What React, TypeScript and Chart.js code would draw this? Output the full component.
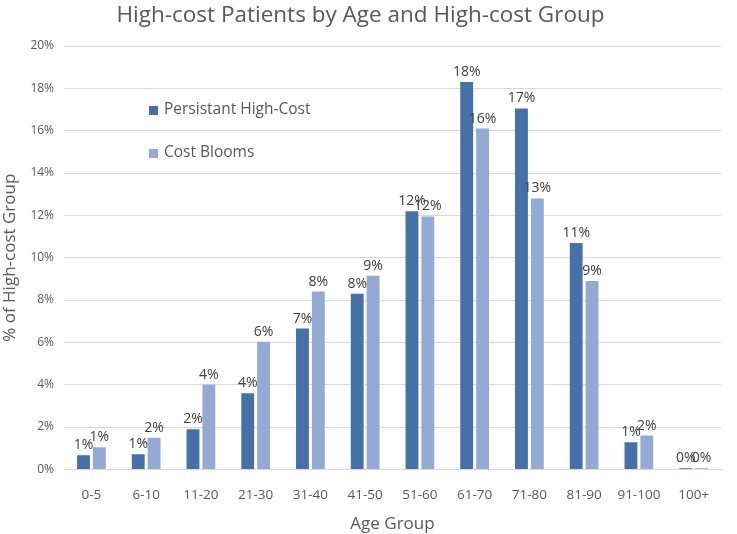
import React, { useEffect, useRef } from "react";
import { Chart, registerables } from "chart.js";

Chart.register(...registerables);

const categories = ["0-5", "6-10", "11-20", "21-30", "31-40", "41-50", "51-60", "61-70", "71-80", "81-90", "91-100", "100+"];
const persistentHighCost = [0.67, 0.72, 1.9, 3.6, 6.65, 8.3, 12.2, 18.3, 17.05, 10.7, 1.28, 0.05];
const costBlooms = [1.05, 1.5, 4.0, 6.03, 8.4, 9.15, 11.95, 16.1, 12.8, 8.9, 1.6, 0.06];
const seriesNames = ["Persistant High-Cost", "Cost Blooms"];
const seriesColors = ["#4671A8", "#94AAD4"];
const yTicks = [0, 2, 4, 6, 8, 10, 12, 14, 16, 18, 20];

const FONT = "'Open Sans', 'Liberation Sans', sans-serif";
const TEXT = "#595959";

const dataLabelPlugin = {
  id: "dataLabels",
  afterDatasetsDraw(chart: any) {
    const ctx = chart.ctx;
    ctx.save();
    ctx.font = `14px ${FONT}`;
    ctx.fillStyle = "#404040";
    ctx.textAlign = "center";
    ctx.textBaseline = "bottom";
    chart.data.datasets.forEach((ds: any, i: number) => {
      const meta = chart.getDatasetMeta(i);
      meta.data.forEach((bar: any, j: number) => {
        const v = ds.data[j];
        ctx.fillText(Math.round(v) + "%", bar.x, bar.y - 3);
      });
    });
    ctx.restore();
  },
};

const legendPlugin = {
  id: "insideLegend",
  afterDraw(chart: any) {
    const ctx = chart.ctx;
    const x0 = 149;
    const ys = [110, 153];
    ctx.save();
    ctx.font = `15.5px ${FONT}`;
    ctx.textBaseline = "middle";
    ctx.textAlign = "left";
    seriesNames.forEach((n, i) => {
      ctx.fillStyle = seriesColors[i];
      ctx.fillRect(x0, ys[i] - 4, 9, 9);
      ctx.fillStyle = TEXT;
      ctx.fillText(n, x0 + 15, ys[i]);
    });
    ctx.restore();
  },
};

export default function App() {
  const ref = useRef<HTMLCanvasElement>(null);
  useEffect(() => {
    document.body.style.margin = "0";
    const chart = new Chart(ref.current!, {
      type: "bar",
      data: {
        labels: categories,
        datasets: [
          { label: seriesNames[0], data: persistentHighCost, backgroundColor: seriesColors[0], categoryPercentage: 0.58, barPercentage: 0.81 },
          { label: seriesNames[1], data: costBlooms, backgroundColor: seriesColors[1], categoryPercentage: 0.58, barPercentage: 0.81 },
        ],
      },
      options: {
        animation: false,
        responsive: true,
        maintainAspectRatio: false,
        layout: { padding: { left: 0, right: 16, top: 2, bottom: 0 } },
        plugins: {
          legend: { display: false },
          tooltip: { enabled: false },
          title: {
            display: true,
            text: "High-cost Patients by Age and High-cost Group",
            color: TEXT,
            font: { family: FONT, size: 22.5, weight: "normal" },
            padding: { top: 0, bottom: 17 },
          },
        },
        scales: {
          x: {
            grid: { display: false },
            border: { color: "#d9d9d9" },
            ticks: { color: TEXT, font: { family: FONT, size: 13.5 }, padding: 10 },
            title: { display: true, text: "Age Group", color: TEXT, font: { family: FONT, size: 17 }, padding: { top: 0, bottom: 0 } },
          },
          y: {
            min: 0,
            max: 20,
            afterBuildTicks: (axis: any) => {
              axis.ticks = yTicks.map((v) => ({ value: v }));
            },
            grid: { color: "#d9d9d9", drawTicks: false },
            border: { display: false },
            ticks: { color: TEXT, font: { family: FONT, size: 12 }, padding: 10, callback: (v: any) => v + "%" },
            title: { display: true, text: "% of High-cost Group", color: TEXT, font: { family: FONT, size: 17 }, padding: { top: 0, bottom: 0 } },
          },
        },
      },
      plugins: [dataLabelPlugin, legendPlugin],
    });
    return () => chart.destroy();
  }, []);
  return (
    <div style={{ width: 737, height: 534, position: "relative", background: "#fff" }}>
      <canvas ref={ref} />
    </div>
  );
}
